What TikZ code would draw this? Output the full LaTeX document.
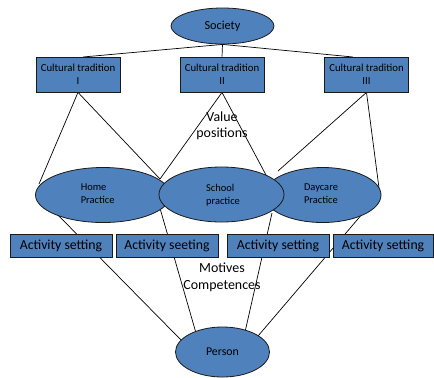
\documentclass[tikz,border=0pt]{standalone}
\usepackage{fontspec}
\setmainfont{Carlito}
\usetikzlibrary{shapes.geometric,backgrounds}
\definecolor{boxblue}{HTML}{4F81BD}
\definecolor{edgecol}{HTML}{1A1A1A}
\tikzset{
  ell/.style={ellipse, draw=edgecol, fill=boxblue, line width=0.8bp, inner sep=0pt},
  rbox/.style={rectangle, draw=edgecol, fill=boxblue, line width=0.8bp, inner sep=0pt, align=center},
  link/.style={draw=black, line width=0.7bp},
  txt/.style={inner sep=0pt, align=center, text=black}
}
\begin{document}
\begin{tikzpicture}[x=1bp,y=-1bp]
\useasboundingbox (0,0) rectangle (434,377);
% top
\node[ell, minimum width=103bp, minimum height=36bp, font=\fontsize{12.3}{14}\selectfont] (soc) at (222.5,26) {Society};
\node[rbox, minimum width=84bp, minimum height=35bp, font=\fontsize{10.8}{13.3}\selectfont] (c1) at (78,74.5) {Cultural tradition\\I};
\node[rbox, minimum width=84bp, minimum height=35bp, font=\fontsize{10.8}{13.3}\selectfont] (c2) at (222,74.5) {Cultural tradition\\II};
\node[rbox, minimum width=84bp, minimum height=35bp, font=\fontsize{10.8}{13.3}\selectfont] (c3) at (366.5,74.5) {Cultural tradition\\III};
% practices
\node[ell, minimum width=135bp, minimum height=55bp] (home) at (103,195) {};
\node[ell, minimum width=117bp, minimum height=55bp] (day) at (322.5,195) {};
\node[ell, minimum width=125bp, minimum height=55bp] (school) at (221.5,194.5) {};
\node[txt, align=left, font=\fontsize{10.5}{13.3}\selectfont] (hometxt) at (97.7,194) {Home\\Practice};
\node[txt, align=left, font=\fontsize{10.5}{13.3}\selectfont] (schooltxt) at (223,195) {School\\practice};
\node[txt, align=left, font=\fontsize{10.5}{13.3}\selectfont] (daytxt) at (321,194) {Daycare\\Practice};
% activity settings
\node[rbox, minimum width=102bp, minimum height=23bp, font=\fontsize{13.8}{16}\selectfont] (a1) at (61,245.5) {Activity setting};
\node[rbox, minimum width=102bp, minimum height=23bp, font=\fontsize{13.8}{16}\selectfont] (a2) at (167,245.5) {Activity seeting};
\node[rbox, minimum width=102bp, minimum height=23bp, font=\fontsize{13.8}{16}\selectfont] (a3) at (278,245.5) {Activity setting};
\node[rbox, minimum width=100bp, minimum height=23bp, font=\fontsize{13.8}{16}\selectfont] (a4) at (383,245.5) {Activity setting};
% person
\node[ell, minimum width=94bp, minimum height=50bp, font=\fontsize{11.9}{14}\selectfont] (person) at (222.5,352) {Person};
% free labels
\node[txt, font=\fontsize{14}{16}\selectfont] (vp) at (222,126) {Value\\positions};
\node[txt, font=\fontsize{14}{16.6}\selectfont] (mc) at (222,277.5) {Motives\\Competences};
% connector end points
\coordinate (s1) at (83,57);
\coordinate (s3) at (353,57);
\coordinate (p1) at (39,184);
\coordinate (x1) at (160,179);
\coordinate (x2) at (266,175);
\coordinate (q1) at (278,171);
\coordinate (q2) at (379,188);
\coordinate (r1) at (55,212);
\coordinate (x3) at (160.5,210);
\coordinate (x4) at (272,213);
\coordinate (r4) at (363,213);
\coordinate (t1) at (182,341);
\coordinate (t2) at (196,333);
\coordinate (t3) at (245,332);
\coordinate (t4) at (258,336);
\begin{pgfonlayer}{background}
\draw[link] (soc.south) -- (s1);
\draw[link] (soc.south) -- (c2.north);
\draw[link] (soc.south) -- (s3);
\draw[link] (c1.south) -- (p1);
\draw[link] (c1.south) -- (x1);
\draw[link] (c2.south) -- (x1);
\draw[link] (c2.south) -- (x2);
\draw[link] (c3.south) -- (q1);
\draw[link] (c3.south) -- (q2);
\draw[link] (r1) -- (t1);
\draw[link] (x3) -- (t2);
\draw[link] (x4) -- (t3);
\draw[link] (r4) -- (t4);
\end{pgfonlayer}
\end{tikzpicture}
\end{document}
